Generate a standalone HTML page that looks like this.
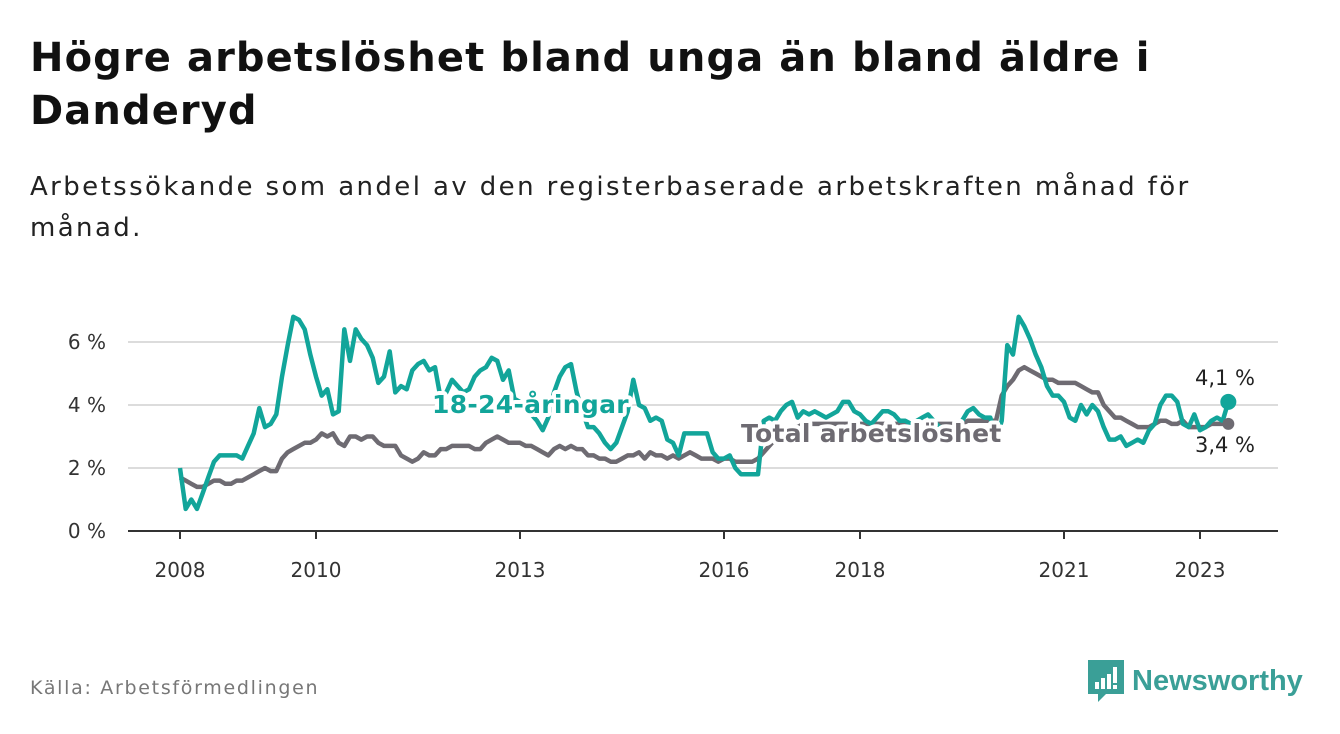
<!DOCTYPE html>
<html><head><meta charset="utf-8"><style>
body{margin:0;width:1340px;height:734px;background:#fff;font-family:"DejaVu Sans","Liberation Sans",sans-serif;overflow:hidden;position:relative}
h1{position:absolute;left:30px;top:32px;margin:0;font-size:40px;line-height:53px;font-weight:bold;color:#111;letter-spacing:1.1px;white-space:nowrap}
.sub{position:absolute;left:30px;top:167px;margin:0;font-size:26px;line-height:41px;color:#222;letter-spacing:2.4px;white-space:nowrap}
.src{position:absolute;left:30px;top:677px;font-size:19px;color:#777;letter-spacing:1.7px}
.logo{position:absolute;left:1088px;top:660px;display:flex;align-items:center;gap:8px;color:#3a9f97;font-size:29px;font-weight:bold;font-family:"Liberation Sans",sans-serif}
</style></head><body>
<h1>Högre arbetslöshet bland unga än bland äldre i<br>Danderyd</h1>
<p class="sub">Arbetssökande som andel av den registerbaserade arbetskraften månad för<br>månad.</p>
<svg id="chart" width="1340" height="734" style="position:absolute;left:0;top:0" font-family="DejaVu Sans, Liberation Sans, sans-serif"></svg>
<div class="src">Källa: Arbetsförmedlingen</div>
<div class="logo">
<svg width="36" height="42" viewBox="0 0 36 42"><path d="M0 0H36V34H18L10 42V34H0Z" fill="#3a9f97"/><rect x="7" y="22" width="4" height="7" fill="#fff"/><rect x="13" y="18" width="4" height="11" fill="#fff"/><rect x="19" y="14" width="4" height="15" fill="#fff"/><rect x="25" y="7" width="4" height="16" fill="#fff"/><rect x="25" y="25" width="4" height="4" fill="#fff"/></svg>
<span>Newsworthy</span></div>
<script>
const startYear = 2008;
const yTicks = [0, 2, 4, 6];
const yTickLabels = ["0 %", "2 %", "4 %", "6 %"];
const xTickYears = [2008, 2010, 2013, 2016, 2018, 2021, 2023];
const youth = [2.0,0.7,1.0,0.7,1.2,1.7,2.2,2.4,2.4,2.4,2.4,2.3,
2.7,3.1,3.9,3.3,3.4,3.7,4.9,5.9,6.8,6.7,6.4,5.6,
4.9,4.3,4.5,3.7,3.8,6.4,5.4,6.4,6.1,5.9,5.5,4.7,
4.9,5.7,4.4,4.6,4.5,5.1,5.3,5.4,5.1,5.2,4.2,4.4,
4.8,4.6,4.4,4.5,4.9,5.1,5.2,5.5,5.4,4.8,5.1,4.2,
4.1,4.0,3.7,3.5,3.2,3.6,4.4,4.9,5.2,5.3,4.4,3.8,
3.3,3.3,3.1,2.8,2.6,2.8,3.3,3.8,4.8,4.0,3.9,3.5,
3.6,3.5,2.9,2.8,2.4,3.1,3.1,3.1,3.1,3.1,2.5,2.3,
2.3,2.4,2.0,1.8,1.8,1.8,1.8,3.5,3.6,3.5,3.8,4.0,
4.1,3.6,3.8,3.7,3.8,3.7,3.6,3.7,3.8,4.1,4.1,3.8,
3.7,3.5,3.4,3.6,3.8,3.8,3.7,3.5,3.5,3.4,3.5,3.6,
3.7,3.5,3.3,3.3,3.2,3.3,3.5,3.8,3.9,3.7,3.6,3.6,
2.9,3.5,5.9,5.6,6.8,6.5,6.1,5.6,5.2,4.6,4.3,4.3,
4.1,3.6,3.5,4.0,3.7,4.0,3.8,3.3,2.9,2.9,3.0,2.7,
2.8,2.9,2.8,3.2,3.4,4.0,4.3,4.3,4.1,3.4,3.3,3.7,
3.2,3.3,3.5,3.6,3.5,4.1];
const total = [1.7,1.6,1.5,1.4,1.4,1.5,1.6,1.6,1.5,1.5,1.6,1.6,
1.7,1.8,1.9,2.0,1.9,1.9,2.3,2.5,2.6,2.7,2.8,2.8,
2.9,3.1,3.0,3.1,2.8,2.7,3.0,3.0,2.9,3.0,3.0,2.8,
2.7,2.7,2.7,2.4,2.3,2.2,2.3,2.5,2.4,2.4,2.6,2.6,
2.7,2.7,2.7,2.7,2.6,2.6,2.8,2.9,3.0,2.9,2.8,2.8,
2.8,2.7,2.7,2.6,2.5,2.4,2.6,2.7,2.6,2.7,2.6,2.6,
2.4,2.4,2.3,2.3,2.2,2.2,2.3,2.4,2.4,2.5,2.3,2.5,
2.4,2.4,2.3,2.4,2.3,2.4,2.5,2.4,2.3,2.3,2.3,2.2,
2.3,2.3,2.2,2.2,2.2,2.2,2.3,2.5,2.7,2.9,3.1,3.2,
3.3,3.3,3.4,3.4,3.4,3.4,3.4,3.4,3.4,3.4,3.4,3.4,
3.4,3.4,3.4,3.4,3.4,3.4,3.4,3.4,3.4,3.4,3.4,3.4,
3.4,3.4,3.4,3.4,3.4,3.4,3.4,3.5,3.5,3.5,3.5,3.5,
3.5,4.3,4.6,4.8,5.1,5.2,5.1,5.0,4.9,4.8,4.8,4.7,
4.7,4.7,4.7,4.6,4.5,4.4,4.4,4.0,3.8,3.6,3.6,3.5,
3.4,3.3,3.3,3.3,3.4,3.5,3.5,3.4,3.4,3.5,3.3,3.3,
3.3,3.3,3.4,3.4,3.4,3.4];

const NS = "http://www.w3.org/2000/svg";
const svg = document.getElementById("chart");
const X0 = 180, PX_YEAR = 68, Y0 = 531, PX_UNIT = 31.5;
const xm = i => X0 + i * PX_YEAR / 12;
const xy = yr => X0 + (yr - startYear) * PX_YEAR;
const yv = v => Y0 - v * PX_UNIT;
function mk(tag, attrs, text) {
  const e = document.createElementNS(NS, tag);
  for (const k in attrs) e.setAttribute(k, attrs[k]);
  if (text !== undefined) e.textContent = text;
  svg.appendChild(e);
  return e;
}
yTicks.forEach((t, i) => {
  if (t > 0) {
    const g = mk("line", {x1: 128, x2: 1278, y1: yv(t), y2: yv(t), stroke: "#dcdcdc", "stroke-width": 2});
    
    
  }
  const l = mk("text", {x: 106, y: yv(t) + 7, "text-anchor": "end", "font-size": 20, fill: "#333"}, yTickLabels[i]);
  
  
});
const ax = mk("line", {x1: 128, x2: 1278, y1: Y0, y2: Y0, stroke: "#333", "stroke-width": 2});


xTickYears.forEach(yr => {
  const tk = mk("line", {x1: xy(yr), x2: xy(yr), y1: Y0, y2: Y0 + 8, stroke: "#333", "stroke-width": 2});
  
  
  const l = mk("text", {x: xy(yr), y: 577, "text-anchor": "middle", "font-size": 20, fill: "#333"}, String(yr));
  
  
});
function path(arr) { return arr.map((v, i) => (i ? "L" : "M") + xm(i).toFixed(1) + " " + yv(v).toFixed(1)).join(""); }
const tl = mk("path", {d: path(total), fill: "none", stroke: "#6e6b72", "stroke-width": 4.5, "stroke-linejoin": "round"});


const yl = mk("path", {d: path(youth), fill: "none", stroke: "#12a59a", "stroke-width": 4.5, "stroke-linejoin": "round"});


const last = youth.length - 1;
const td = mk("circle", {cx: xm(total.length - 1), cy: yv(total[total.length - 1]), r: 6, fill: "#6e6b72"});


const yd = mk("circle", {cx: xm(last), cy: yv(youth[last]), r: 8, fill: "#12a59a"});


function lbl(x, y, txt, col, name) {
  const h = mk("text", {x, y, "font-size": 25, "font-weight": "bold", "letter-spacing": 0.3, fill: "#fff", stroke: "#fff", "stroke-width": 8, "stroke-linejoin": "round"}, txt);
  
  
  const t = mk("text", {x, y, "font-size": 25, "font-weight": "bold", "letter-spacing": 0.3, fill: col}, txt);
  
  
}
lbl(432, 413, "18-24-åringar", "#12a59a", "youth-series-label");
lbl(741, 442, "Total arbetslöshet", "#6e6b72", "total-series-label");
const e1 = mk("text", {x: 1225, y: 385, "text-anchor": "middle", "font-size": 21, fill: "#222"}, "4,1 %");


const e2 = mk("text", {x: 1225, y: 452, "text-anchor": "middle", "font-size": 21, fill: "#222"}, "3,4 %");


</script>
</body></html>
